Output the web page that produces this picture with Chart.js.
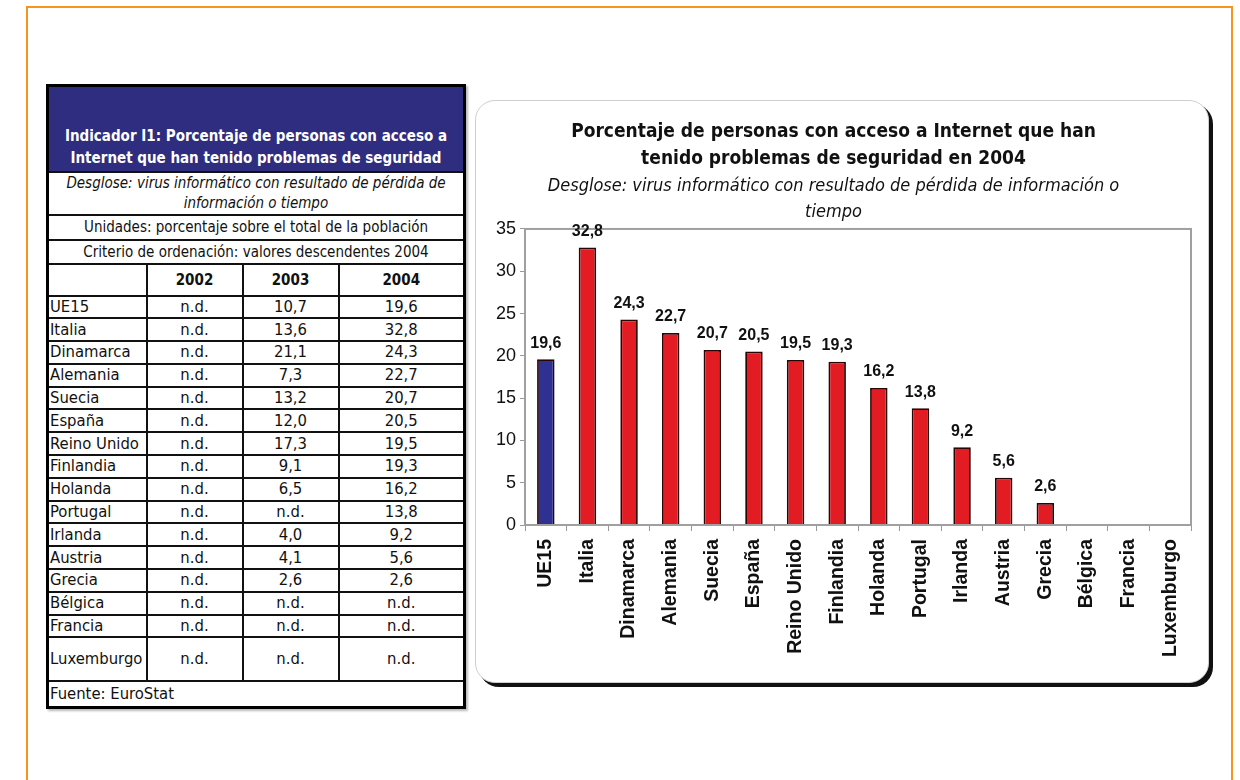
<!DOCTYPE html>
<html>
<head>
<meta charset="utf-8">
<script src="https://cdn.jsdelivr.net/npm/chart.js@4/dist/chart.umd.min.js"></script>
<style>
  body { margin: 0; background: #fff; width: 1240px; height: 780px; overflow: hidden; position: relative; }
  #frame { position: absolute; left: 26px; top: 6px; width: 1203px; height: 800px; border: 2px solid #f7941d; }
  #tbl { position: absolute; left: 46px; top: 84px; border-collapse: collapse; border: 3px solid #000;
         font-family: "DejaVu Sans Condensed", "DejaVu Sans", sans-serif; font-size: 15px; color: #111;
         box-shadow: 2px 2px 2px #bbb; }
  #tbl td { border: 2px solid #111; padding: 0 1px; text-align: center; line-height: 20px; }
  #tbl td.name { text-align: left; }
  #tbl tr.fila td { font-size: 16.5px; }
  #tbl tr.head td { background: #2e2d7f; color: #fff; font-weight: bold; font-size: 15px; vertical-align: bottom; padding-bottom: 2px; line-height: 22px; }
  #tbl tr.years td { font-weight: bold; }
  #box { position: absolute; left: 475px; top: 100px; width: 732px; height: 581px; border: 1px solid #cfcfcf;
         border-radius: 20px; box-shadow: 4px 4px 0 #111; background: #fff; }
  #box canvas { position: absolute; left: 0; top: 0; }
</style>
</head>
<body>
<div id="frame"></div>
<table id="tbl"></table>
<div id="box"><canvas id="chart" width="732" height="581"></canvas></div>
<script>
// datos del indicador I1 (EuroStat)
const paises = ["UE15", "Italia", "Dinamarca", "Alemania", "Suecia", "España", "Reino Unido", "Finlandia",
  "Holanda", "Portugal", "Irlanda", "Austria", "Grecia", "Bélgica", "Francia", "Luxemburgo"]
const v2002 = [null, null, null, null, null, null, null, null, null, null, null, null, null, null, null, null]
const v2003 = [10.7, 13.6, 21.1, 7.3, 13.2, 12.0, 17.3, 9.1, 6.5, null, 4.0, 4.1, 2.6, null, null, null]
const v2004 = [19.6, 32.8, 24.3, 22.7, 20.7, 20.5, 19.5, 19.3, 16.2, 13.8, 9.2, 5.6, 2.6, null, null, null]
const years = ["2002", "2003", "2004"]
const yTicks = [0, 5, 10, 15, 20, 25, 30, 35]

const tituloTabla = ["Indicador I1: Porcentaje de personas con acceso a", "Internet que han tenido problemas de seguridad"]
const desglose = ["Desglose: virus informático con resultado de pérdida de", "información o tiempo"]
const unidades = "Unidades: porcentaje sobre el total de la población"
const criterio = "Criterio de ordenación: valores descendentes 2004"
const fuente = "Fuente: EuroStat"

const tituloGrafico = ["Porcentaje de personas con acceso a Internet que han", "tenido problemas de seguridad en 2004"]
const subtituloGrafico = ["Desglose: virus informático con resultado de pérdida de información o", "tiempo"]

function fmt(v) {
  return v == null ? "n.d." : v.toFixed(1).replace(".", ",")
}

// tabla
let tbl = document.getElementById("tbl")
let html = '<colgroup><col style="width:99px"><col style="width:96px"><col style="width:96px"><col style="width:126px"></colgroup>'
html += '<tr class="head" style="height:86px"><td colspan="4">' + tituloTabla.join("<br>") + '</td></tr>'
html += '<tr style="height:43px"><td colspan="4"><i>' + desglose.join("<br>") + '</i></td></tr>'
html += '<tr style="height:25px"><td colspan="4">' + unidades + '</td></tr>'
html += '<tr style="height:24px"><td colspan="4">' + criterio + '</td></tr>'
html += '<tr class="years" style="height:32px"><td></td>' + years.map(y => '<td>' + y + '</td>').join("") + '</tr>'
paises.forEach((p, i) => {
  let h = p == "Luxemburgo" ? 44 : 22.8
  html += '<tr class="fila" style="height:' + h + 'px"><td class="name">' + p + '</td><td>' + fmt(v2002[i]) + '</td><td>' +
    fmt(v2003[i]) + '</td><td>' + fmt(v2004[i]) + '</td></tr>'
})
html += '<tr class="fila" style="height:26px"><td colspan="4" class="name">' + fuente + '</td></tr>'
tbl.innerHTML = html

// grafico
const marco = {
  id: "marco",
  afterDatasetsDraw(chart) {
    const a = chart.chartArea, ctx = chart.ctx
    ctx.save()
    ctx.strokeStyle = "#a0a0a0"
    ctx.lineWidth = 2
    ctx.strokeRect(a.left, a.top, a.right - a.left, a.bottom - a.top)
    ctx.restore()
  }
}

const etiquetas = {
  id: "etiquetas",
  afterDatasetsDraw(chart) {
    const ctx = chart.ctx
    const meta = chart.getDatasetMeta(0)
    ctx.save()
    ctx.font = "bold 16px 'Liberation Sans Narrow', 'Liberation Sans', sans-serif"
    ctx.fillStyle = "#111"
    ctx.textAlign = "center"
    ctx.textBaseline = "bottom"
    meta.data.forEach((bar, i) => {
      const v = chart.data.datasets[0].data[i]
      if (v == null) return
      ctx.fillText(fmt(v), bar.x, bar.y - 8)
    })
    ctx.restore()
  }
}

let ctx = document.getElementById("chart").getContext("2d")
let chart = new Chart(ctx, {
  type: "bar",
  data: {
    labels: paises,
    datasets: [{
      data: v2004,
      backgroundColor: paises.map(p => p == "UE15" ? "#2e3192" : "#e31b23"),
      borderColor: "#2a0505",
      borderWidth: 1.8,
      barPercentage: 0.42,
      categoryPercentage: 1
    }]
  },
  options: {
    responsive: false,
    animation: false,
    layout: { padding: { left: 0, right: 17, top: 0, bottom: 20 } },
    plugins: {
      legend: { display: false },
      tooltip: { enabled: false },
      title: {
        display: true,
        text: tituloGrafico,
        color: "#111",
        font: { family: "'DejaVu Sans Condensed', 'DejaVu Sans', sans-serif", size: 19, weight: "bold", lineHeight: 1.42 },
        padding: { top: 18, bottom: 0 }
      },
      subtitle: {
        display: true,
        text: subtituloGrafico,
        color: "#111",
        font: { family: "'DejaVu Sans Condensed', 'DejaVu Sans', sans-serif", size: 18, style: "italic", lineHeight: 1.45 },
        padding: { top: 0, bottom: 3.8 }
      }
    },
    scales: {
      x: {
        afterFit(s) { s.height = 137 },
        grid: { offset: true, drawOnChartArea: false, drawTicks: true, tickLength: 6, color: "#999" },
        border: { color: "#a0a0a0", width: 2 },
        ticks: {
          autoSkip: false, maxRotation: 90, minRotation: 90, padding: 8, color: "#111",
          font: { family: "'Liberation Sans', Arial, sans-serif", size: 19.5, weight: "bold" }
        }
      },
      y: {
        min: 0, max: 35,
        afterFit(s) { s.width = 49 },
        afterBuildTicks(s) { s.ticks = yTicks.map(v => ({ value: v })) },
        grid: { drawOnChartArea: false, drawTicks: true, tickLength: 5, color: "#999" },
        border: { color: "#a0a0a0", width: 2 },
        ticks: {
          padding: 4, color: "#111",
          font: { family: "'Liberation Sans Narrow', 'Liberation Sans', sans-serif", size: 18 }
        }
      }
    }
  },
  plugins: [marco, etiquetas]
})
</script>
</body>
</html>
